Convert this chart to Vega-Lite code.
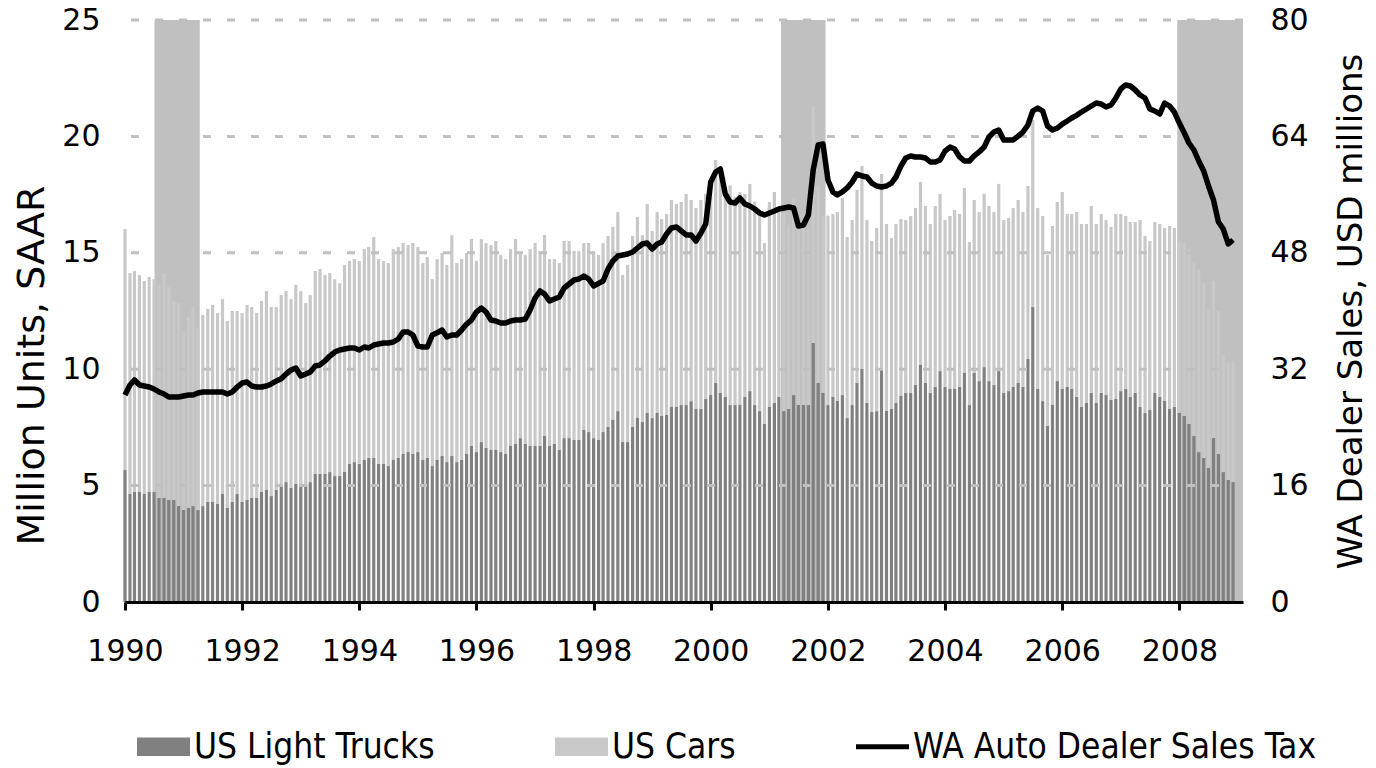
{
"$schema": "https://vega.github.io/schema/vega-lite/v6.json",
"width": 1118, "height": 582,
"autosize": {"type": "none"},
"padding": {"left": 125, "top": 20, "right": 133, "bottom": 166},
"background": "white",
"config": {"view": {"stroke": null}},
"data": {"values": [
{"d":"1990-01-01","trucks":5.67,"cars":10.35,"tax":28.45},
{"d":"1990-02-01","trucks":4.64,"cars":9.49,"tax":29.83},
{"d":"1990-03-01","trucks":4.73,"cars":9.49,"tax":30.52},
{"d":"1990-04-01","trucks":4.73,"cars":9.32,"tax":29.83},
{"d":"1990-05-01","trucks":4.64,"cars":9.15,"tax":29.69},
{"d":"1990-06-01","trucks":4.73,"cars":9.23,"tax":29.55},
{"d":"1990-07-01","trucks":4.73,"cars":9.14,"tax":29.28},
{"d":"1990-08-01","trucks":4.47,"cars":9.15,"tax":28.87},
{"d":"1990-09-01","trucks":4.47,"cars":9.66,"tax":28.59},
{"d":"1990-10-01","trucks":4.38,"cars":9.15,"tax":28.18},
{"d":"1990-11-01","trucks":4.38,"cars":8.55,"tax":28.18},
{"d":"1990-12-01","trucks":4.12,"cars":8.72,"tax":28.18},
{"d":"1991-01-01","trucks":3.95,"cars":7.69,"tax":28.32},
{"d":"1991-02-01","trucks":4.04,"cars":8.20,"tax":28.45},
{"d":"1991-03-01","trucks":4.12,"cars":8.55,"tax":28.45},
{"d":"1991-04-01","trucks":3.95,"cars":7.86,"tax":28.73},
{"d":"1991-05-01","trucks":4.12,"cars":8.21,"tax":28.87},
{"d":"1991-06-01","trucks":4.30,"cars":8.29,"tax":28.87},
{"d":"1991-07-01","trucks":4.30,"cars":8.46,"tax":28.87},
{"d":"1991-08-01","trucks":4.21,"cars":8.20,"tax":28.87},
{"d":"1991-09-01","trucks":4.64,"cars":8.38,"tax":28.87},
{"d":"1991-10-01","trucks":4.04,"cars":8.03,"tax":28.59},
{"d":"1991-11-01","trucks":4.30,"cars":8.20,"tax":28.87},
{"d":"1991-12-01","trucks":4.64,"cars":7.86,"tax":29.55},
{"d":"1992-01-01","trucks":4.30,"cars":8.11,"tax":30.10},
{"d":"1992-02-01","trucks":4.38,"cars":8.38,"tax":30.24},
{"d":"1992-03-01","trucks":4.47,"cars":8.20,"tax":29.69},
{"d":"1992-04-01","trucks":4.47,"cars":7.94,"tax":29.55},
{"d":"1992-05-01","trucks":4.73,"cars":8.20,"tax":29.55},
{"d":"1992-06-01","trucks":4.81,"cars":8.55,"tax":29.69},
{"d":"1992-07-01","trucks":4.55,"cars":8.12,"tax":29.97},
{"d":"1992-08-01","trucks":4.81,"cars":7.86,"tax":30.38},
{"d":"1992-09-01","trucks":4.98,"cars":8.21,"tax":30.70},
{"d":"1992-10-01","trucks":5.15,"cars":8.21,"tax":31.34},
{"d":"1992-11-01","trucks":4.90,"cars":8.12,"tax":31.89},
{"d":"1992-12-01","trucks":5.07,"cars":8.55,"tax":32.16},
{"d":"1993-01-01","trucks":4.98,"cars":8.38,"tax":31.07},
{"d":"1993-02-01","trucks":5.07,"cars":7.77,"tax":31.34},
{"d":"1993-03-01","trucks":5.15,"cars":8.04,"tax":31.62},
{"d":"1993-04-01","trucks":5.50,"cars":8.72,"tax":32.44},
{"d":"1993-05-01","trucks":5.50,"cars":8.80,"tax":32.58},
{"d":"1993-06-01","trucks":5.50,"cars":8.55,"tax":33.13},
{"d":"1993-07-01","trucks":5.58,"cars":8.55,"tax":33.81},
{"d":"1993-08-01","trucks":5.41,"cars":8.46,"tax":34.36},
{"d":"1993-09-01","trucks":5.41,"cars":8.29,"tax":34.64},
{"d":"1993-10-01","trucks":5.58,"cars":8.90,"tax":34.78},
{"d":"1993-11-01","trucks":5.93,"cars":8.72,"tax":34.91},
{"d":"1993-12-01","trucks":6.01,"cars":8.72,"tax":34.91},
{"d":"1994-01-01","trucks":5.93,"cars":8.72,"tax":34.64},
{"d":"1994-02-01","trucks":6.10,"cars":9.06,"tax":35.05},
{"d":"1994-03-01","trucks":6.19,"cars":9.06,"tax":34.91},
{"d":"1994-04-01","trucks":6.19,"cars":9.49,"tax":35.33},
{"d":"1994-05-01","trucks":5.93,"cars":8.80,"tax":35.46},
{"d":"1994-06-01","trucks":5.93,"cars":8.72,"tax":35.60},
{"d":"1994-07-01","trucks":5.84,"cars":8.72,"tax":35.60},
{"d":"1994-08-01","trucks":6.10,"cars":9.06,"tax":35.74},
{"d":"1994-09-01","trucks":6.19,"cars":9.06,"tax":36.15},
{"d":"1994-10-01","trucks":6.36,"cars":9.06,"tax":37.11},
{"d":"1994-11-01","trucks":6.44,"cars":8.89,"tax":37.11},
{"d":"1994-12-01","trucks":6.36,"cars":9.06,"tax":36.70},
{"d":"1995-01-01","trucks":6.44,"cars":8.81,"tax":35.19},
{"d":"1995-02-01","trucks":6.10,"cars":8.46,"tax":35.05},
{"d":"1995-03-01","trucks":6.19,"cars":8.63,"tax":35.05},
{"d":"1995-04-01","trucks":5.84,"cars":8.03,"tax":36.70},
{"d":"1995-05-01","trucks":6.10,"cars":8.63,"tax":37.00},
{"d":"1995-06-01","trucks":6.27,"cars":8.72,"tax":37.39},
{"d":"1995-07-01","trucks":6.01,"cars":8.47,"tax":36.43},
{"d":"1995-08-01","trucks":6.27,"cars":9.49,"tax":36.70},
{"d":"1995-09-01","trucks":6.01,"cars":8.55,"tax":36.70},
{"d":"1995-10-01","trucks":6.10,"cars":8.63,"tax":37.39},
{"d":"1995-11-01","trucks":6.36,"cars":8.63,"tax":38.21},
{"d":"1995-12-01","trucks":6.70,"cars":8.89,"tax":38.76},
{"d":"1996-01-01","trucks":6.44,"cars":8.21,"tax":39.86},
{"d":"1996-02-01","trucks":6.87,"cars":8.72,"tax":40.41},
{"d":"1996-03-01","trucks":6.62,"cars":8.80,"tax":39.86},
{"d":"1996-04-01","trucks":6.53,"cars":8.80,"tax":38.76},
{"d":"1996-05-01","trucks":6.53,"cars":8.98,"tax":38.63},
{"d":"1996-06-01","trucks":6.44,"cars":8.47,"tax":38.35},
{"d":"1996-07-01","trucks":6.36,"cars":8.37,"tax":38.35},
{"d":"1996-08-01","trucks":6.70,"cars":8.46,"tax":38.63},
{"d":"1996-09-01","trucks":6.79,"cars":8.80,"tax":38.76},
{"d":"1996-10-01","trucks":7.04,"cars":7.95,"tax":38.76},
{"d":"1996-11-01","trucks":6.79,"cars":8.12,"tax":38.90},
{"d":"1996-12-01","trucks":6.70,"cars":8.46,"tax":40.14},
{"d":"1997-01-01","trucks":6.70,"cars":8.72,"tax":41.79},
{"d":"1997-02-01","trucks":6.70,"cars":8.38,"tax":42.75},
{"d":"1997-03-01","trucks":7.13,"cars":8.63,"tax":42.34},
{"d":"1997-04-01","trucks":6.70,"cars":8.03,"tax":41.37},
{"d":"1997-05-01","trucks":6.79,"cars":7.94,"tax":41.65},
{"d":"1997-06-01","trucks":6.53,"cars":8.03,"tax":41.92},
{"d":"1997-07-01","trucks":7.04,"cars":8.47,"tax":43.16},
{"d":"1997-08-01","trucks":7.04,"cars":8.47,"tax":43.71},
{"d":"1997-09-01","trucks":6.96,"cars":8.12,"tax":44.26},
{"d":"1997-10-01","trucks":6.96,"cars":8.12,"tax":44.40},
{"d":"1997-11-01","trucks":7.39,"cars":8.03,"tax":44.81},
{"d":"1997-12-01","trucks":7.30,"cars":8.12,"tax":44.40},
{"d":"1998-01-01","trucks":7.04,"cars":7.95,"tax":43.44},
{"d":"1998-02-01","trucks":6.96,"cars":7.95,"tax":43.80},
{"d":"1998-03-01","trucks":7.30,"cars":8.12,"tax":44.12},
{"d":"1998-04-01","trucks":7.52,"cars":8.20,"tax":45.77},
{"d":"1998-05-01","trucks":7.82,"cars":8.29,"tax":46.87},
{"d":"1998-06-01","trucks":8.20,"cars":8.55,"tax":47.56},
{"d":"1998-07-01","trucks":6.87,"cars":7.18,"tax":47.70},
{"d":"1998-08-01","trucks":6.87,"cars":7.61,"tax":47.84},
{"d":"1998-09-01","trucks":7.52,"cars":8.20,"tax":48.11},
{"d":"1998-10-01","trucks":7.90,"cars":8.64,"tax":48.66},
{"d":"1998-11-01","trucks":7.73,"cars":8.03,"tax":49.21},
{"d":"1998-12-01","trucks":8.12,"cars":8.98,"tax":49.35},
{"d":"1999-01-01","trucks":7.90,"cars":8.04,"tax":48.52},
{"d":"1999-02-01","trucks":8.12,"cars":8.63,"tax":49.21},
{"d":"1999-03-01","trucks":7.99,"cars":8.46,"tax":49.48},
{"d":"1999-04-01","trucks":8.03,"cars":8.64,"tax":50.58},
{"d":"1999-05-01","trucks":8.38,"cars":8.89,"tax":51.41},
{"d":"1999-06-01","trucks":8.38,"cars":8.72,"tax":51.55},
{"d":"1999-07-01","trucks":8.46,"cars":8.72,"tax":51.00},
{"d":"1999-08-01","trucks":8.46,"cars":9.07,"tax":50.45},
{"d":"1999-09-01","trucks":8.63,"cars":8.64,"tax":50.45},
{"d":"1999-10-01","trucks":8.29,"cars":8.63,"tax":49.62},
{"d":"1999-11-01","trucks":8.29,"cars":8.98,"tax":50.72},
{"d":"1999-12-01","trucks":8.72,"cars":8.81,"tax":51.96},
{"d":"2000-01-01","trucks":8.89,"cars":8.81,"tax":57.73},
{"d":"2000-02-01","trucks":9.41,"cars":9.58,"tax":59.11},
{"d":"2000-03-01","trucks":8.98,"cars":9.32,"tax":59.52},
{"d":"2000-04-01","trucks":8.81,"cars":8.99,"tax":56.08},
{"d":"2000-05-01","trucks":8.46,"cars":9.44,"tax":54.98},
{"d":"2000-06-01","trucks":8.46,"cars":8.94,"tax":54.85},
{"d":"2000-07-01","trucks":8.46,"cars":9.14,"tax":55.53},
{"d":"2000-08-01","trucks":8.81,"cars":8.72,"tax":54.71},
{"d":"2000-09-01","trucks":9.06,"cars":8.90,"tax":54.43},
{"d":"2000-10-01","trucks":8.46,"cars":8.74,"tax":54.02},
{"d":"2000-11-01","trucks":8.20,"cars":8.42,"tax":53.47},
{"d":"2000-12-01","trucks":7.65,"cars":7.77,"tax":53.20},
{"d":"2001-01-01","trucks":8.38,"cars":8.80,"tax":53.47},
{"d":"2001-02-01","trucks":8.55,"cars":9.06,"tax":53.75},
{"d":"2001-03-01","trucks":8.81,"cars":8.09,"tax":54.02},
{"d":"2001-04-01","trucks":8.20,"cars":8.50,"tax":54.16},
{"d":"2001-05-01","trucks":8.29,"cars":7.91,"tax":54.30},
{"d":"2001-06-01","trucks":8.89,"cars":8.46,"tax":54.16},
{"d":"2001-07-01","trucks":8.46,"cars":7.54,"tax":51.68},
{"d":"2001-08-01","trucks":8.46,"cars":7.84,"tax":51.82},
{"d":"2001-09-01","trucks":8.46,"cars":7.54,"tax":53.20},
{"d":"2001-10-01","trucks":11.13,"cars":10.18,"tax":59.38},
{"d":"2001-11-01","trucks":9.41,"cars":8.46,"tax":62.82},
{"d":"2001-12-01","trucks":8.98,"cars":7.60,"tax":62.96},
{"d":"2002-01-01","trucks":8.46,"cars":8.14,"tax":58.01},
{"d":"2002-02-01","trucks":8.81,"cars":7.86,"tax":56.36},
{"d":"2002-03-01","trucks":8.63,"cars":8.12,"tax":55.95},
{"d":"2002-04-01","trucks":8.89,"cars":8.46,"tax":56.36},
{"d":"2002-05-01","trucks":7.90,"cars":7.78,"tax":56.91},
{"d":"2002-06-01","trucks":8.46,"cars":7.95,"tax":57.73},
{"d":"2002-07-01","trucks":9.41,"cars":8.29,"tax":58.83},
{"d":"2002-08-01","trucks":10.01,"cars":8.72,"tax":58.56},
{"d":"2002-09-01","trucks":8.55,"cars":7.86,"tax":58.42},
{"d":"2002-10-01","trucks":8.16,"cars":7.35,"tax":57.59},
{"d":"2002-11-01","trucks":8.20,"cars":7.87,"tax":57.18},
{"d":"2002-12-01","trucks":10.01,"cars":8.37,"tax":57.04},
{"d":"2003-01-01","trucks":8.20,"cars":8.04,"tax":57.18},
{"d":"2003-02-01","trucks":8.29,"cars":7.35,"tax":57.59},
{"d":"2003-03-01","trucks":8.55,"cars":7.69,"tax":58.42},
{"d":"2003-04-01","trucks":8.85,"cars":7.60,"tax":59.93},
{"d":"2003-05-01","trucks":8.98,"cars":7.43,"tax":61.03},
{"d":"2003-06-01","trucks":8.98,"cars":7.60,"tax":61.31},
{"d":"2003-07-01","trucks":9.32,"cars":7.60,"tax":61.17},
{"d":"2003-08-01","trucks":10.18,"cars":7.86,"tax":61.17},
{"d":"2003-09-01","trucks":9.41,"cars":7.60,"tax":61.03},
{"d":"2003-10-01","trucks":8.98,"cars":7.26,"tax":60.48},
{"d":"2003-11-01","trucks":9.24,"cars":7.77,"tax":60.48},
{"d":"2003-12-01","trucks":9.92,"cars":7.61,"tax":60.76},
{"d":"2004-01-01","trucks":9.24,"cars":7.17,"tax":61.99},
{"d":"2004-02-01","trucks":9.15,"cars":7.43,"tax":62.54},
{"d":"2004-03-01","trucks":9.15,"cars":7.69,"tax":62.27},
{"d":"2004-04-01","trucks":9.24,"cars":7.43,"tax":61.17},
{"d":"2004-05-01","trucks":9.84,"cars":7.94,"tax":60.62},
{"d":"2004-06-01","trucks":8.46,"cars":7.00,"tax":60.62},
{"d":"2004-07-01","trucks":9.84,"cars":7.43,"tax":61.31},
{"d":"2004-08-01","trucks":9.49,"cars":7.26,"tax":61.86},
{"d":"2004-09-01","trucks":10.09,"cars":7.44,"tax":62.54},
{"d":"2004-10-01","trucks":9.49,"cars":7.52,"tax":63.92},
{"d":"2004-11-01","trucks":9.32,"cars":7.43,"tax":64.60},
{"d":"2004-12-01","trucks":9.92,"cars":8.04,"tax":64.88},
{"d":"2005-01-01","trucks":8.98,"cars":7.43,"tax":63.51},
{"d":"2005-02-01","trucks":9.06,"cars":7.43,"tax":63.51},
{"d":"2005-03-01","trucks":9.24,"cars":7.68,"tax":63.51},
{"d":"2005-04-01","trucks":9.41,"cars":7.86,"tax":64.05},
{"d":"2005-05-01","trucks":9.24,"cars":7.51,"tax":64.60},
{"d":"2005-06-01","trucks":10.44,"cars":7.43,"tax":65.57},
{"d":"2005-07-01","trucks":12.67,"cars":8.03,"tax":67.49},
{"d":"2005-08-01","trucks":9.15,"cars":7.77,"tax":67.90},
{"d":"2005-09-01","trucks":8.63,"cars":7.95,"tax":67.49},
{"d":"2005-10-01","trucks":7.56,"cars":7.35,"tax":65.43},
{"d":"2005-11-01","trucks":8.46,"cars":7.69,"tax":64.88},
{"d":"2005-12-01","trucks":9.49,"cars":7.69,"tax":65.15},
{"d":"2006-01-01","trucks":9.15,"cars":8.46,"tax":65.70},
{"d":"2006-02-01","trucks":9.24,"cars":7.43,"tax":66.12},
{"d":"2006-03-01","trucks":9.15,"cars":7.52,"tax":66.53},
{"d":"2006-04-01","trucks":8.81,"cars":7.94,"tax":66.90},
{"d":"2006-05-01","trucks":8.38,"cars":7.86,"tax":67.35},
{"d":"2006-06-01","trucks":8.55,"cars":7.69,"tax":67.77},
{"d":"2006-07-01","trucks":8.98,"cars":8.03,"tax":68.18},
{"d":"2006-08-01","trucks":8.55,"cars":7.69,"tax":68.59},
{"d":"2006-09-01","trucks":8.98,"cars":7.69,"tax":68.45},
{"d":"2006-10-01","trucks":8.89,"cars":7.52,"tax":68.04},
{"d":"2006-11-01","trucks":8.68,"cars":7.43,"tax":68.32},
{"d":"2006-12-01","trucks":8.72,"cars":7.95,"tax":69.28},
{"d":"2007-01-01","trucks":9.06,"cars":7.61,"tax":70.52},
{"d":"2007-02-01","trucks":9.15,"cars":7.43,"tax":71.07},
{"d":"2007-03-01","trucks":8.81,"cars":7.51,"tax":70.93},
{"d":"2007-04-01","trucks":8.98,"cars":7.34,"tax":70.38},
{"d":"2007-05-01","trucks":8.38,"cars":8.03,"tax":69.69},
{"d":"2007-06-01","trucks":8.12,"cars":7.60,"tax":69.28},
{"d":"2007-07-01","trucks":8.25,"cars":7.26,"tax":67.77},
{"d":"2007-08-01","trucks":8.98,"cars":7.34,"tax":67.49},
{"d":"2007-09-01","trucks":8.81,"cars":7.43,"tax":67.08},
{"d":"2007-10-01","trucks":8.63,"cars":7.44,"tax":68.59},
{"d":"2007-11-01","trucks":8.29,"cars":7.86,"tax":68.18},
{"d":"2007-12-01","trucks":8.38,"cars":7.69,"tax":67.35},
{"d":"2008-01-01","trucks":8.12,"cars":7.34,"tax":65.84},
{"d":"2008-02-01","trucks":7.99,"cars":7.43,"tax":64.47},
{"d":"2008-03-01","trucks":7.65,"cars":7.51,"tax":63.09},
{"d":"2008-04-01","trucks":7.13,"cars":7.43,"tax":62.13},
{"d":"2008-05-01","trucks":6.44,"cars":7.86,"tax":60.62},
{"d":"2008-06-01","trucks":6.19,"cars":7.51,"tax":59.24},
{"d":"2008-07-01","trucks":5.76,"cars":6.83,"tax":57.18},
{"d":"2008-08-01","trucks":7.04,"cars":6.75,"tax":55.26},
{"d":"2008-09-01","trucks":6.36,"cars":6.14,"tax":52.23},
{"d":"2008-10-01","trucks":5.58,"cars":5.03,"tax":51.27},
{"d":"2008-11-01","trucks":5.24,"cars":5.03,"tax":49.21},
{"d":"2008-12-01","trucks":5.15,"cars":5.20,"tax":49.76}
]},
"layer": [
 {"layer": [
  {"data": {"values": [
     {"s":"1990-07-04","e":"1991-04-12"},
     {"s":"2001-03-14","e":"2001-12-17"},
     {"s":"2007-12-19","e":"2009-02-01"}
   ], "format": {"parse": {"s": "date", "e": "date"}}},
   "mark": {"type": "rect", "color": "#c0c0c0"},
   "encoding": {
     "x": {"field": "s", "type": "temporal"},
     "x2": {"field": "e"},
     "y": {"datum": 0, "type": "quantitative"},
     "y2": {"datum": 25}
   }},
  {"transform": [{"fold": ["trucks", "cars"], "as": ["series", "units"]}],
   "mark": {"type": "bar", "width": 3.2},
   "encoding": {
     "x": {"field": "d", "type": "temporal",
       "scale": {"domain": ["1990-01-01", "2009-02-01"], "padding": 0},
       "axis": {"title": null, "values": [{"year":1990},{"year":1992},{"year":1994},{"year":1996},{"year":1998},{"year":2000},{"year":2002},{"year":2004},{"year":2006},{"year":2008}],
         "format": "%Y", "labelFont": "DejaVu Sans", "labelFontSize": 30, "labelColor": "black",
         "domainColor": "black", "domainWidth": 3, "tickColor": "black", "tickWidth": 3, "tickSize": 8,
         "labelPadding": 26, "grid": false, "labelFlush": false, "labelOverlap": false, "zindex": 2}},
     "y": {"field": "units", "type": "quantitative", "stack": "zero",
       "scale": {"domain": [0, 25], "nice": false},
       "axis": {"orient": "left", "title": "Million Units, SAAR", "values": [0,5,10,15,20,25],
         "titleFont": "DejaVu Sans", "titleFontSize": 38, "titleFontWeight": "normal", "titleColor": "black",
         "titleX": -74, "titleY": 345, "titleAngle": 270, "titleAlign": "center", "titleBaseline": "bottom",
         "labelFont": "DejaVu Sans", "labelFontSize": 30, "labelColor": "black", "labelPadding": 25,
         "domain": false, "ticks": false, "grid": false}},
     "color": {"field": "series", "type": "nominal",
       "scale": {"domain": ["trucks", "cars", "tax"], "range": ["#808080", "#c8c8c8", "#000000"]},
       "legend": {"orient": "none", "legendX": 12, "legendY": 700, "direction": "horizontal", "title": null,
         "labelFont": "DejaVu Sans Condensed, DejaVu Sans, sans-serif", "labelFontSize": 35, "labelColor": "black",
         "symbolSize": 2809, "symbolType": "M-1,-0.35H1V0.35H-1Z", "symbolStrokeWidth": 0,
         "columnPadding": 120, "labelOffset": 4, "padding": 0, "labelLimit": 0,
         "labelExpr": "datum.value === 'trucks' ? 'US Light Trucks' : datum.value === 'cars' ? 'US Cars' : 'WA Auto Dealer Sales Tax'",
         "encode": {"symbols": {"update": {
           "shape": {"signal": "datum.value === 'tax' ? 'M-1,-0.09H1V0.09H-1Z' : 'M-1,-0.35H1V0.35H-1Z'"},
           "fill": {"signal": "datum.value === 'trucks' ? '#808080' : datum.value === 'cars' ? '#c8c8c8' : '#000000'"},
           "stroke": {"value": "transparent"},
           "opacity": {"value": 1}}}}}},
     "order": {"field": "series", "sort": "descending"}
   }},
  {"data": {"values": [{"g": 5}, {"g": 10}, {"g": 15}, {"g": 20}, {"g": 25}]},
   "mark": {"type": "rule", "color": "#c0c0c0", "strokeWidth": 3, "strokeDash": [8, 16]},
   "encoding": {
     "y": {"field": "g", "type": "quantitative", "title": "Million Units, SAAR"}
   }}
 ]},
 {"mark": {"type": "line", "color": "black", "strokeWidth": 5.5, "strokeJoin": "round"},
  "encoding": {
    "x": {"field": "d", "type": "temporal"},
    "y": {"field": "tax", "type": "quantitative",
      "scale": {"domain": [0, 80], "nice": false},
      "axis": {"orient": "right", "title": "WA Dealer Sales, USD millions", "values": [0,16,32,48,64,80],
        "titleFont": "DejaVu Sans", "titleFontSize": 34, "titleFontWeight": "normal", "titleColor": "black", "titleAngle": 270, "titleBaseline": "top", "titlePadding": 26,
        "labelFont": "DejaVu Sans", "labelFontSize": 30, "labelColor": "black", "labelPadding": 27,
        "domain": false, "ticks": false, "grid": false}},
    "color": {"datum": "tax"}
  }}
],
"resolve": {"scale": {"y": "independent"}}
}
